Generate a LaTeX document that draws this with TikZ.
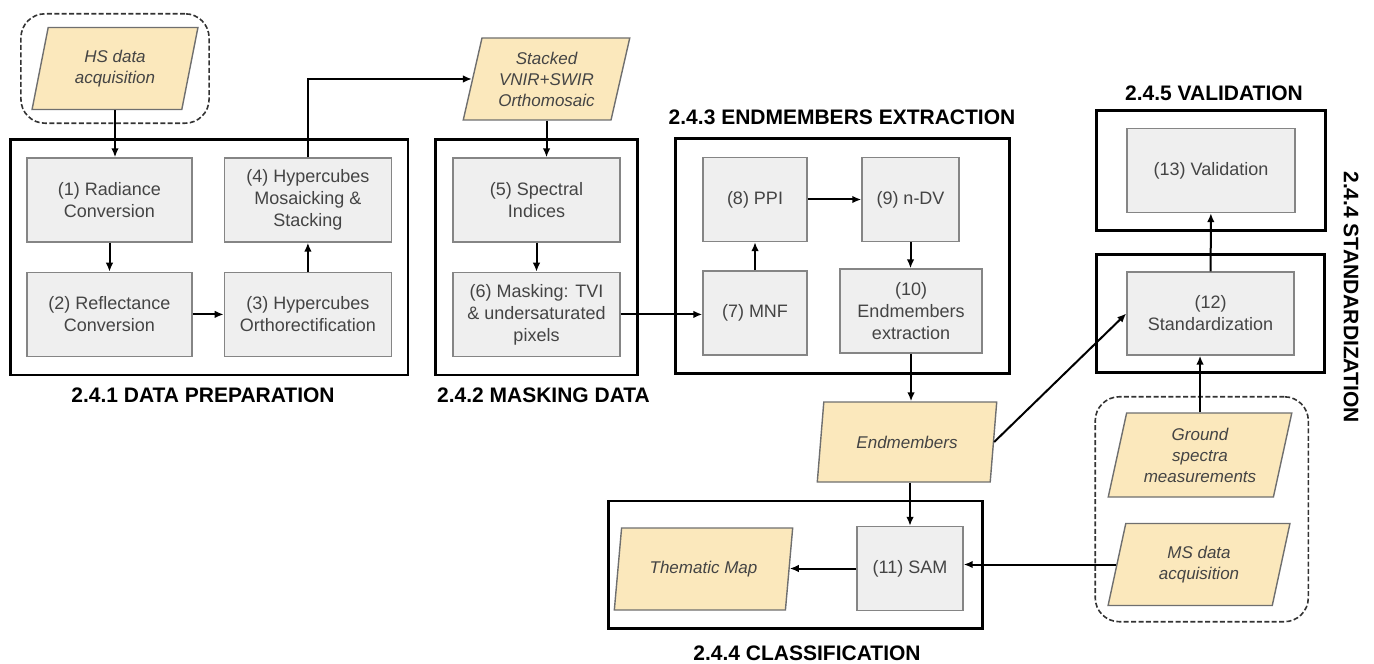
\documentclass[tikz,border=0pt]{standalone}
\usepackage{fontspec}
\setmainfont{Liberation Sans}
\usepackage{tikz}
\usetikzlibrary{positioning, shapes.geometric, fit, arrows, arrows.meta}
\usepackage{xcolor}
\definecolor{boxfill}{HTML}{EFEFEF}
\definecolor{boxedge}{HTML}{858585}
\definecolor{datafill}{HTML}{FBE8BC}
\definecolor{dataedge}{HTML}{6F6F6F}
\definecolor{steptext}{HTML}{444444}
\tikzstyle{arrow} = [line width=1pt,->,>={Latex[length=4.5pt,width=3.8pt]}]

\begin{document}
\begin{tikzpicture}[
    x=0.5pt, y=-0.5pt,
    stepbox/.style={draw=boxedge, fill=boxfill, line width=0.7pt, text=steptext,
      font=\fontsize{9}{11}\selectfont, align=center, minimum height=42pt, inner sep=2pt},
    databox/.style={trapezium, trapezium left angle=76, trapezium right angle=104,
      trapezium stretches=true, draw=dataedge, fill=datafill, line width=0.7pt,
      text=steptext, font=\fontsize{8.5}{10.5}\selectfont\itshape, align=center,
      minimum height=41pt, inner sep=1pt},
    frame/.style={draw, line width=1.3pt, inner sep=0pt},
    inputgroup/.style={draw=black!80, dash pattern=on 2.5pt off 1.2pt, line width=0.8pt, rounded corners=12pt},
    grouplabel/.style={font=\fontsize{10.5}{12}\selectfont\bfseries}
  ]
  \useasboundingbox (0,0) rectangle (1374,663);

  % 2.4.1 data preparation
  \node[databox, minimum width=83pt] (hsdata) at (115,68.5) {HS data\\acquisition};
  \node[inputgroup, fit=(hsdata), inner xsep=9.25pt, inner ysep=6.5pt] (hsgroup) {};

  \node[stepbox, minimum width=82.5pt] (radconv) at (109.5,200) {(1) Radiance\\Conversion};
  \node[stepbox, minimum width=82.5pt, below=14.5pt of radconv] (reflconv) {(2) Reflectance\\Conversion};
  \node[stepbox, minimum width=83.5pt, right=15.5pt of radconv] (mosaic) {(4) Hypercubes\\Mosaicking \&\\Stacking};
  \node[stepbox, minimum width=83.5pt, below=14.5pt of mosaic] (ortho) {(3) Hypercubes\\Orthorectification};
  \node[frame, fit=(radconv)(ortho), inner xsep=8pt, inner ysep=9pt] (prepframe) {};
  \node[grouplabel] (preplabel) at (203,395) {2.4.1 DATA PREPARATION};

  % 2.4.2 masking data
  \node[databox, minimum width=83.5pt] (stacked) at (546.5,79) {Stacked\\VNIR+SWIR\\Orthomosaic};
  \node[stepbox, minimum width=83.5pt] (spectral) at (536.5,200) {(5) Spectral\\Indices};
  \node[stepbox, minimum width=83.5pt, below=14.5pt of spectral] (masking) {(6) Masking: TVI\\\& undersaturated\\pixels};
  \node[frame, fit=(spectral)(masking), inner xsep=8.5pt, inner ysep=9pt] (maskframe) {};
  \node[grouplabel] (masklabel) at (543.5,395) {2.4.2 MASKING DATA};

  % 2.4.3 endmembers extraction
  \node[stepbox, minimum width=52pt] (ppi) at (755,199.5) {(8) PPI};
  \node[stepbox, minimum width=48.5pt] (ndv) at (910.5,199.5) {(9) n-DV};
  \node[stepbox, minimum width=52pt, below=14pt of ppi] (mnf) {(7) MNF};
  \node[stepbox, minimum width=71pt] (emext) at (911,311) {(10)\\Endmembers\\extraction};
  \node[frame, fit=(ppi)(mnf)(emext), inner xsep=13.5pt, inner ysep=9pt] (endframe) {};
  \node[grouplabel] (endlabel) at (842,117) {2.4.3 ENDMEMBERS EXTRACTION};

  % 2.4.4 classification
  \node[databox, minimum width=90pt, minimum height=40pt] (endm) at (907,442) {Endmembers};
  \node[stepbox, minimum width=53pt] (sam) at (910,568.5) {(11) SAM};
  \node[databox, minimum width=89.5pt] (thematic) at (703.5,569) {Thematic Map};
  \node[frame, fit=(thematic)(sam), inner xsep=7pt, inner ysep=10.5pt, xshift=2.5pt, yshift=2pt] (classframe) {};
  \node[grouplabel] (classlabel) at (807,653) {2.4.4 CLASSIFICATION};

  % 2.4.4 standardization and 2.4.5 validation
  \node[stepbox, minimum width=83.5pt, minimum height=41.5pt] (stdz) at (1210.5,313.5) {(12)\\Standardization};
  \node[frame, fit=(stdz), inner xsep=15pt, inner ysep=8.5pt] (stdframe) {};
  \node[grouplabel, rotate=-90] (stdlabel) at (1351,297) {2.4.4 STANDARDIZATION};
  \node[stepbox, minimum width=84pt] (valid) at (1211,170.5) {(13) Validation};
  \node[frame, fit=(valid), inner xsep=15pt, inner ysep=8.5pt] (validframe) {};
  \node[grouplabel] (validlabel) at (1214,93) {2.4.5 VALIDATION};

  \node[databox, minimum width=92pt, minimum height=42pt] (ground) at (1200,455) {Ground\\spectra\\measurements};
  \node[databox, minimum width=91pt] (msdata) at (1199,564.5) {MS data\\acquisition};
  \node[inputgroup, fit=(ground)(msdata), inner xsep=11.5pt, inner ysep=7.75pt, xshift=1pt] (msgroup) {};

  % connectors
  \draw[arrow] (hsdata.south) -- (hsdata.south |- radconv.north);
  \draw[arrow] (radconv) -- (reflconv);
  \draw[arrow] (reflconv) -- (ortho);
  \draw[arrow] (ortho) -- (mosaic);
  \draw[arrow] (mosaic.north) |- (stacked.west);
  \draw[arrow] (stacked.south) -- (stacked.south |- spectral.north);
  \draw[arrow] (spectral) -- (masking);
  \draw[arrow] (masking.east) -- (masking.east -| mnf.west);
  \draw[arrow] (mnf) -- (ppi);
  \draw[arrow] (ppi) -- (ndv);
  \draw[arrow] (ndv) -- (ndv |- emext.north);
  \draw[arrow] (emext.south) -- (emext.south |- endm.north);
  \draw[arrow] (sam.north |- endm.south) -- (sam.north);
  \draw[arrow] (sam.west) -- (sam.west -| thematic.east);
  \draw[arrow] (msdata.west) -- (msdata.west -| sam.east);
  \draw[arrow] (endm.east) -- (stdz.west);
  \draw[arrow] (ground.north) -- (ground.north |- stdz.south);
  \draw[arrow] (stdz) -- (valid);

\end{tikzpicture}
\end{document}
